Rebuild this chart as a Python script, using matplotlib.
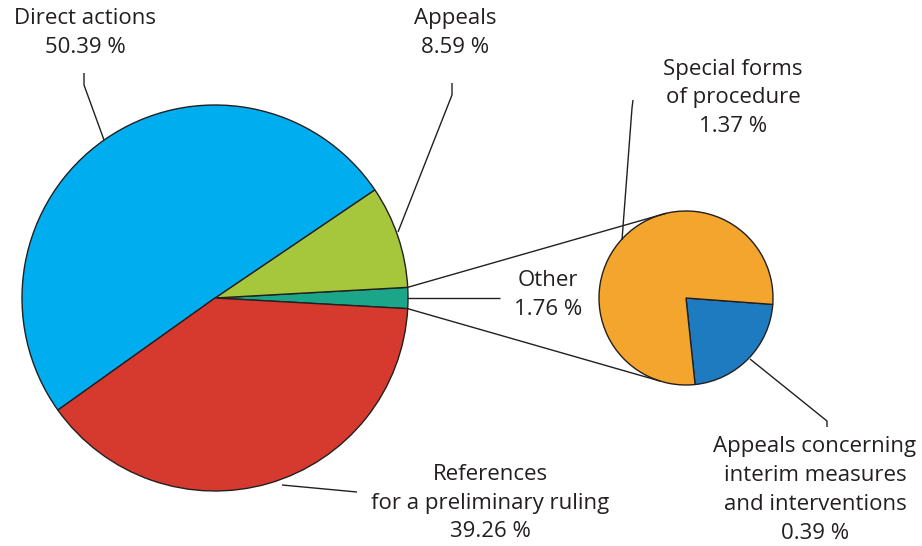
import numpy as np
import matplotlib.pyplot as plt

# main pie, counter-clockwise starting from the "Other" slice
main_labels = ['Other', 'Appeals', 'Direct actions', 'References\nfor a preliminary ruling']
main_values = [1.76, 8.59, 50.39, 39.26]
main_colors = ['#1ba68a', '#a6c73c', '#00aeef', '#d63a2f']

# breakdown of "Other"
sub_labels = ['Appeals concerning\ninterim measures\nand interventions', 'Special forms\nof procedure']
sub_values = [0.39, 1.37]
sub_colors = ['#1e7bc0', '#f3a52d']

W, H = 922, 546
txt_col = '#231f20'
plt.rcParams['font.family'] = ['Open Sans', 'DejaVu Sans']

fig = plt.figure(figsize=(W / 100, H / 100), dpi=100)
ax = fig.add_axes([0, 0, 1, 1])

def P(x, y):  # image pixel coords -> axis coords (y up)
    return x, H - y

c1, r1 = P(215, 298), 193
c2, r2 = P(686, 298), 87

half = main_values[0] / 100 * 360 / 2
ax.pie(main_values, colors=main_colors, center=c1, radius=r1, startangle=-half,
       counterclock=True, wedgeprops=dict(edgecolor='#231f20', linewidth=1.0))
ax.pie(sub_values, colors=sub_colors, center=c2, radius=r2, startangle=-84,
       counterclock=True, wedgeprops=dict(edgecolor='#231f20', linewidth=1.0))

def on_circle(c, r, deg):
    a = np.deg2rad(deg)
    return c[0] + r * np.cos(a), c[1] + r * np.sin(a)

lk = dict(color='#231f20', lw=1.0, solid_capstyle='butt')
# connection lines between the two pies
for a_main, a_sub in [(half, 103), (-half, 253)]:
    p0 = on_circle(c1, r1, a_main)
    p1 = on_circle(c2, r2, a_sub)
    ax.plot([p0[0], p1[0]], [p0[1], p1[1]], **lk)

def leader(pts):
    xs, ys = zip(*[P(*p) for p in pts])
    ax.plot(xs, ys, **lk)

leader([(84, 73), (84, 85), (104, 140)])
leader([(452, 83), (452, 95), (398, 232)])
leader([(633, 100), (632, 108), (622, 240)])
leader([(407, 298), (500, 298)])
leader([(282, 485), (357, 492)])
leader([(750, 359), (827, 421), (827, 427)])

tk = dict(fontsize=16, color=txt_col, ha='center', va='center', linespacing=1.48)
def label(x, y, s):
    ax.text(*P(x, y), s, **tk)

label(85, 33, main_labels[2] + '\n50.39 %')
label(455, 33, main_labels[1] + '\n8.59 %')
label(733, 98, sub_labels[1] + '\n1.37 %')
label(548, 295, main_labels[0] + '\n1.76 %')
label(490, 503, main_labels[3] + '\n39.26 %')
label(815, 490, sub_labels[0] + '\n0.39 %')

ax.set_xlim(0, W)
ax.set_ylim(0, H)
ax.set_aspect('equal')
ax.axis('off')
fig.savefig('out.png', dpi=100)
